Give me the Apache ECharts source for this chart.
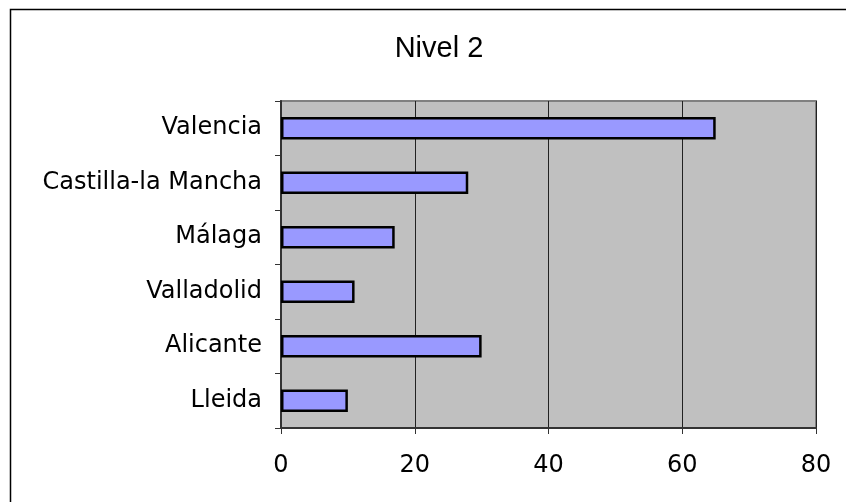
<!DOCTYPE html>
<html><head><meta charset="utf-8">
<script src="https://cdn.jsdelivr.net/npm/echarts@6/dist/echarts.min.js"></script>
<style>html,body{margin:0;padding:0;background:#fff}#c{width:846px;height:502px}</style>
</head><body><div id="c"></div>
<script>
const titleText = 'Nivel 2';
const categories = ['Lleida', 'Alicante', 'Valladolid', 'Málaga', 'Castilla-la Mancha', 'Valencia'];
const values = [10, 30, 11, 17, 28, 65];
const xTicks = { min: 0, max: 80, interval: 20 };

const chart = echarts.init(document.getElementById('c'), null, { renderer: 'canvas' });
chart.setOption({
  animation: false,
  backgroundColor: '#ffffff',
  graphic: [{
    type: 'rect', z: -1, silent: true,
    shape: { x: 10.5, y: 9.5, width: 860, height: 520 },
    style: { fill: 'none', stroke: '#000', lineWidth: 1.5 }
  }, {
    type: 'rect', z: 0, silent: true,
    shape: { x: 281, y: 101, width: 535, height: 327 },
    style: { fill: 'none', stroke: '#808080', lineWidth: 2 }
  }],
  title: {
    text: titleText, left: 434, top: 29, textAlign: 'center',
    textStyle: { fontFamily: 'Liberation Sans', fontSize: 29, fontWeight: 'normal', color: '#000' }
  },
  grid: { left: 281, right: 30, top: 101, bottom: 74, show: true, backgroundColor: '#c0c0c0', borderWidth: 0 },
  xAxis: {
    type: 'value', min: xTicks.min, max: xTicks.max, interval: xTicks.interval,
    axisLine: { show: true, lineStyle: { color: '#333', width: 2 } },
    axisTick: { show: true, length: 6, lineStyle: { color: '#333' } },
    splitLine: { show: true, lineStyle: { color: '#222', width: 1 } },
    axisLabel: { margin: 26, fontFamily: 'DejaVu Sans', fontSize: 24, color: '#000' }
  },
  yAxis: {
    type: 'category', data: categories,
    axisLine: { show: true, lineStyle: { color: '#333', width: 2 } },
    axisTick: { show: true, length: 6, lineStyle: { color: '#333' } },
    axisLabel: { margin: 19, fontFamily: 'DejaVu Sans', fontSize: 24, color: '#000' }
  },
  series: [{
    type: 'bar', data: values, barWidth: '41%',
    itemStyle: { color: '#9999ff', borderColor: '#000', borderWidth: 2.5 }
  }]
});
</script></body></html>
